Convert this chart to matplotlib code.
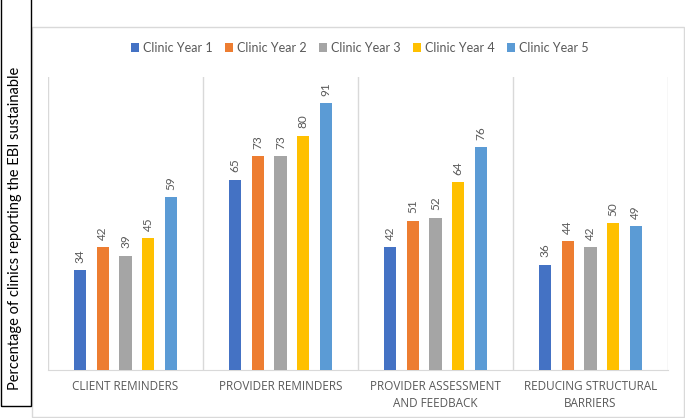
import matplotlib
matplotlib.use("Agg")
import matplotlib.pyplot as plt
from matplotlib.patches import Rectangle
import numpy as np

plt.rcParams['font.family'] = ['Lato', 'DejaVu Sans']

categories = ["CLIENT REMINDERS", "PROVIDER REMINDERS",
              "PROVIDER ASSESSMENT\nAND FEEDBACK", "REDUCING STRUCTURAL\nBARRIERS"]
series_names = ["Clinic Year 1", "Clinic Year 2", "Clinic Year 3", "Clinic Year 4", "Clinic Year 5"]
year1 = [34, 65, 42, 36]
year2 = [42, 73, 51, 44]
year3 = [39, 73, 52, 42]
year4 = [45, 80, 64, 50]
year5 = [59, 91, 76, 49]
series_values = [year1, year2, year3, year4, year5]
colors = ["#4472C4", "#ED7D31", "#A5A5A5", "#FFC000", "#5B9BD5"]
ylabel = "Percentage of clinics reporting the EBI sustainable"

W, H = 685, 418
fig = plt.figure(figsize=(W / 100, H / 100), dpi=100)

# outer chart frame
fig.patches.append(Rectangle((32 / W, 1 - 417 / H), (684 - 32) / W, (417 - 27) / H,
                             transform=fig.transFigure, fill=False,
                             edgecolor="#D9D9D9", lw=1.0))
# left y-label box
fig.patches.append(Rectangle((0.5 / W, 1 - 406 / H), 30 / W, 406 / H + 0.02,
                             transform=fig.transFigure, fill=False,
                             edgecolor="black", lw=1.0, clip_on=False))
fig.text(15.5 / W, 1 - 228 / H, ylabel, rotation=90, ha="center", va="center",
         fontsize=10.5, color="black")

ax = fig.add_axes([48 / W, 48 / H, (668 - 48) / W, (370 - 77) / H])
x = np.arange(len(categories))
slot = 0.1465
bw = 0.078
for i, (name, vals, c) in enumerate(zip(series_names, series_values, colors)):
    pos = x + (i - 2) * slot
    bars = ax.bar(pos, vals, width=bw, color=c, label=name, zorder=3)
    for p, v in zip(pos, vals):
        ax.text(p, v + 2.5, str(v), rotation=90, ha="center", va="bottom",
                fontsize=8.5, color="#595959")

ax.set_xlim(-0.5, len(categories) - 0.5)
ax.set_ylim(0, 100)
for b in np.arange(-0.5, len(categories), 1.0):
    ax.axvline(b, color="#D9D9D9", lw=1.0, zorder=1)
for s in ["top", "left", "right"]:
    ax.spines[s].set_visible(False)
ax.spines["bottom"].set_color("#D9D9D9")
ax.set_yticks([])
ax.set_xticks(x)
ax.set_xticklabels(categories, fontsize=8.5, color="#595959", linespacing=1.45,
                   family=["Open Sans", "DejaVu Sans"])
ax.tick_params(axis="x", length=0, pad=7)
ax.set_facecolor("none")

leg = fig.legend(loc="center", bbox_to_anchor=(360 / W, 1 - 48 / H), ncol=5,
                 frameon=False, fontsize=9, handlelength=0.65, handleheight=0.65,
                 handletextpad=0.3, columnspacing=1.0)
for t in leg.get_texts():
    t.set_color("#595959")

fig.savefig("out.png", dpi=100)
